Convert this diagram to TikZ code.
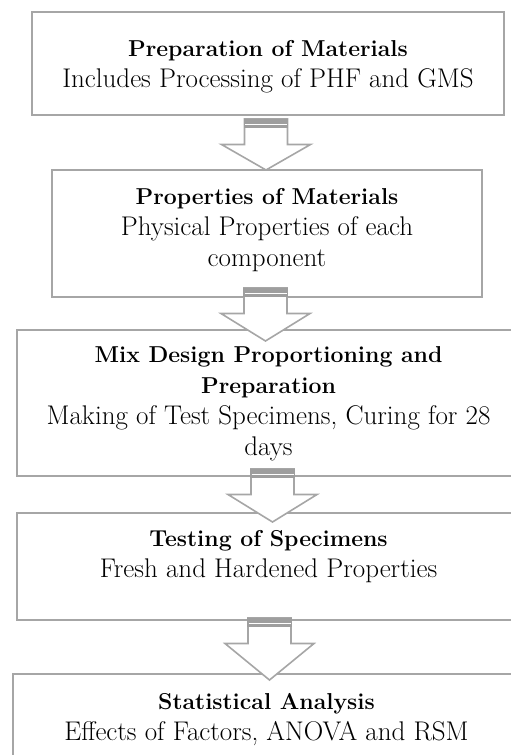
\documentclass[tikz,border=0pt]{standalone}
\usetikzlibrary{calc}
\definecolor{linegray}{HTML}{A6A6A6}
\definecolor{bandgray}{HTML}{9E9E9E}
\newcommand{\boxtitle}[1]{{\fontsize{23}{31}\selectfont\bfseries #1}}
\begin{document}
\begin{tikzpicture}[
  x=1pt, y=-1pt,
  box/.style={draw=linegray, line width=2pt, inner sep=0pt},
  txt/.style={align=center, anchor=base, inner sep=0pt,
              font=\fontsize{27}{31}\selectfont},
  flowarrow/.pic={
    \draw[linegray, line width=1.6pt, fill=white, line join=miter]
      (-21.5,0) -- (-21.5,25.5) -- (-44.5,25.5) -- (0,#1) -- (44.5,25.5)
      -- (21.5,25.5) -- (21.5,0) -- cycle;
    \fill[bandgray] (-22.3,0) rectangle (22.3,9);
    \draw[white, line width=0.7pt] (-21,5) -- (21,5);
  },
]
\path[use as bounding box, clip] (0,0) rectangle (511,755);

\node[box, minimum width=472pt, minimum height=103pt] (prep) at (268,63.5) {};
\node[box, minimum width=430pt, minimum height=127pt] (props) at (267,233.5) {};
\node[box, minimum width=503pt, minimum height=146pt] (mix) at (268.5,403) {};
\node[box, minimum width=503pt, minimum height=107pt] (test) at (268.5,566.5) {};
\node[box, minimum width=507pt, minimum height=116pt] (stat) at (266.5,732) {};

\node[txt] (prep-txt) at ($(prep.north)+(0,76)$) {
  \boxtitle{Preparation of Materials} \\
  Includes Processing of PHF and GMS
};
\node[txt] (props-txt) at ($(props.north)+(0,97)$) {
  \boxtitle{Properties of Materials} \\
  Physical Properties of each \\
  component
};
\node[txt] (mix-txt) at ($(mix.north)+(0,126)$) {
  \boxtitle{Mix Design Proportioning and} \\
  \boxtitle{Preparation} \\
  Making of Test Specimens, Curing for 28 \\
  days
};
\node[txt] (test-txt) at ($(test.north)+(0,65)$) {
  \boxtitle{Testing of Specimens} \\
  Fresh and Hardened Properties
};
\node[txt] (stat-txt) at ($(stat.north)+(0,67)$) {
  \boxtitle{Statistical Analysis} \\
  Effects of Factors, ANOVA and RSM
};

\pic at ($(prep.south)+(-2,3)$) {flowarrow=51};
\pic at ($(props.south)+(-1.5,-10)$) {flowarrow=53};
\pic at ($(mix.south)+(4,-8)$) {flowarrow=53};
\pic at ($(test.south)+(1,-3)$) {flowarrow=62};

\end{tikzpicture}
\end{document}
